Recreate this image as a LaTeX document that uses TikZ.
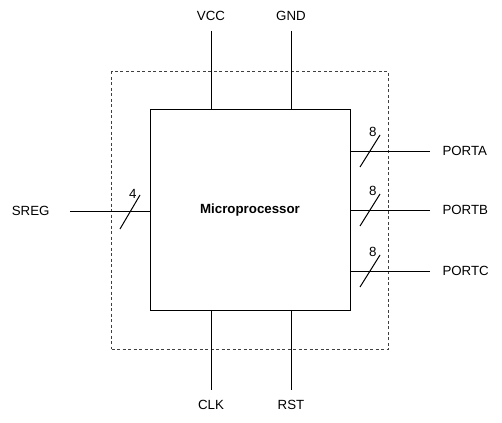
\documentclass[tikz,border=0pt]{standalone}
\usepackage{fontspec}
\setmainfont{Liberation Sans}
\usetikzlibrary{positioning}

\begin{document}
\begin{tikzpicture}[
    x=1pt, y=-1pt, line width=1pt,
    package/.style={draw=black!75, dash pattern=on 3pt off 2.5pt,
                    minimum width=277pt, minimum height=277pt},
    chip/.style={draw, minimum width=200pt, minimum height=200pt,
                 font=\fontsize{13.3}{15}\selectfont\bfseries},
    pin/.style={inner sep=0pt, font=\fontsize{13.3}{15}\selectfont},
    width/.style={inner sep=3pt, anchor=east, font=\fontsize{13.3}{15}\selectfont}
  ]
    \useasboundingbox (0,0) rectangle (502,422);
    \node[package] (pkg) at (250,210.5) {};
    \node[chip] (mcu) at (250,210) {Microprocessor};

    % supply and control pins
    \node[pin] (vcc) at (211,16) {VCC};
    \node[pin] (gnd) at (291,16) {GND};
    \node[pin] (clk) at (211,405) {CLK};
    \node[pin] (rst) at (291,405) {RST};
    \coordinate (vccEnd) at (211,31);
    \coordinate (gndEnd) at (291,31);
    \coordinate (clkEnd) at (211,390);
    \coordinate (rstEnd) at (291,390);
    \draw (vccEnd) -- (vccEnd |- mcu.north);
    \draw (gndEnd) -- (gndEnd |- mcu.north);
    \draw (clkEnd) -- (clkEnd |- mcu.south);
    \draw (rstEnd) -- (rstEnd |- mcu.south);

    % buses
    \node[pin, anchor=east] (sreg) at (50,211) {SREG};
    \node[pin, anchor=west] (porta) at (442,151) {PORTA};
    \node[pin, anchor=west] (portb) at (442,210) {PORTB};
    \node[pin, anchor=west] (portc) at (442,271) {PORTC};
    \coordinate (sregEnd) at (70,211);
    \draw (sregEnd) -- (sregEnd -| mcu.west);
    \draw (130,212) ++(-10,17) -- ++(20,-34) node[width, pos=1, yshift=1pt] {4};
    \foreach \p/\y in {porta/151, portb/210, portc/271} {
      \coordinate (\p End) at (430,\y);
      \draw (\p End) -- (\p End -| mcu.east);
      \draw (370,\y) ++(-10,16) -- ++(20,-32) node[width, pos=1, yshift=3pt] {8};
    }
  \end{tikzpicture}
\end{document}
